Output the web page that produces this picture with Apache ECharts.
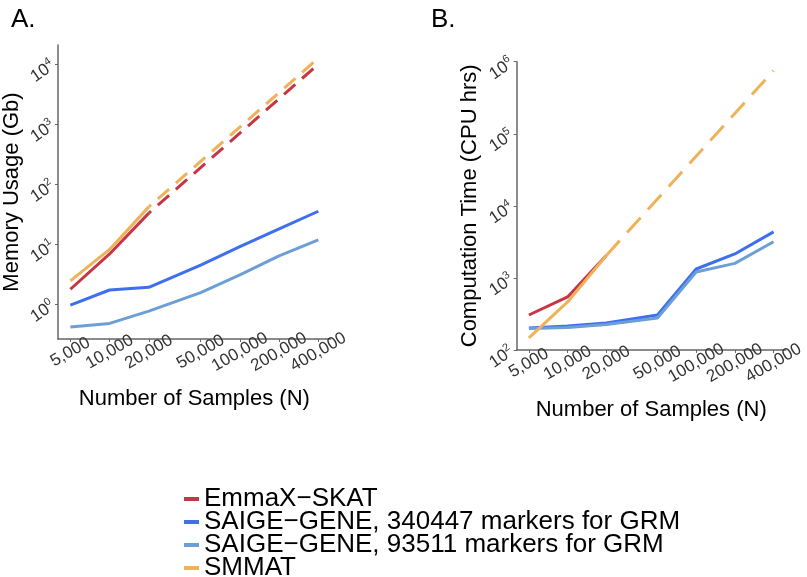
<!DOCTYPE html>
<html>
<head>
<meta charset="utf-8">
<script src="https://cdn.jsdelivr.net/npm/echarts@6/dist/echarts.min.js"></script>
<style>
html,body{margin:0;padding:0;background:#fff;}
#c{width:807px;height:577px;}
</style>
</head>
<body>
<div id="c"></div>
<script>
// ---- data ----
const sampleSizes = [5000, 10000, 20000, 50000, 100000, 200000, 400000];
const xTickLabels = ['5,000', '10,000', '20,000', '50,000', '100,000', '200,000', '400,000'];
const observedSizes = [5000, 10000, 20000];
const projectedSizes = [20000, 400000];

const seriesNames = ['EmmaX\u2212SKAT', 'SAIGE\u2212GENE, 340447 markers for GRM', 'SAIGE\u2212GENE, 93511 markers for GRM', 'SMMAT'];
const seriesColors = ['#C63644', '#3E6FEF', '#6C9FD6', '#EEB258'];

// Panel A: memory usage (Gb)
const memEmmaxObserved = [1.78, 6.9, 33];
const memEmmaxProjected = [33, 10000];
const memSaige340k = [0.97, 1.73, 1.92, 4.5, 9.1, 18, 35.5];
const memSaige93k = [0.42, 0.48, 0.77, 1.56, 3.1, 6.4, 11.8];
const memSmmatObserved = [2.45, 8.2, 42];
const memSmmatProjected = [42, 12600];
const memTicks = [1, 10, 100, 1000, 10000];

// Panel B: computation time (CPU hrs)
const timeEmmaxObserved = [306, 545, 2040];
const timeSaige340k = [202, 216, 237, 306, 1330, 2150, 4350];
const timeSaige93k = [199, 205, 226, 278, 1210, 1590, 3170];
const timeSmmatObserved = [147, 464, 2050];
const timeSmmatProjected = [2050, 750000];
const timeTicks = [100, 1000, 10000, 100000, 1000000];

// ---- chart ----
const FONT = '"Liberation Sans", Arial, Helvetica, sans-serif';
const pair = (xs, ys) => xs.map((x, i) => [x, ys[i]]);

function xAxisDef(gridIndex) {
  return {
    type: 'log', logBase: 10, gridIndex: gridIndex,
    min: 4018, max: 497800,
    name: 'Number of Samples (N)', nameLocation: 'middle', nameGap: 49,
    nameTextStyle: { fontFamily: FONT, fontSize: 22, color: '#000' },
    axisLine: { show: true, lineStyle: { color: '#666', width: 1.5 } },
    axisTick: { show: true, length: 3, lineStyle: { color: '#666' }, customValues: sampleSizes },
    axisLabel: {
      customValues: sampleSizes,
      rotate: 30, align: 'center', verticalAlign: 'middle', margin: 13,
      fontFamily: FONT, fontSize: 17, color: '#333',
      formatter: v => { const i = sampleSizes.indexOf(Math.round(v)); return i >= 0 ? xTickLabels[i] : ''; }
    },
    splitLine: { show: false }, minorTick: { show: false }
  };
}
function yAxisDef(gridIndex, min, max, ticks, title, gap) {
  return {
    type: 'log', logBase: 10, gridIndex: gridIndex, min: min, max: max,
    name: title, nameLocation: 'middle', nameGap: gap,
    nameTextStyle: { fontFamily: FONT, fontSize: 22, color: '#000' },
    axisLine: { show: true, lineStyle: { color: '#666', width: 1.5 } },
    axisTick: { show: true, length: 3, lineStyle: { color: '#666' }, customValues: ticks },
    axisLabel: {
      customValues: ticks,
      rotate: 35, margin: 5, color: '#333',
      formatter: v => '{b|10}{s|' + Math.round(Math.log10(v)) + '}',
      rich: {
        b: { fontFamily: FONT, fontSize: 17, color: '#333' },
        s: { fontFamily: FONT, fontSize: 11, color: '#333', padding: [0, 0, 10, 0] }
      }
    },
    splitLine: { show: false }, minorTick: { show: false }
  };
}
function line(name, color, data, axisIdx, dash) {
  return {
    type: 'line', name: name, data: data, xAxisIndex: axisIdx, yAxisIndex: axisIdx,
    symbol: 'none', showSymbol: false, silent: true, animation: false,
    itemStyle: { color: color },
    lineStyle: Object.assign({ color: color, width: 3 }, dash ? { type: dash.type, dashOffset: dash.offset } : {})
  };
}

const option = {
  backgroundColor: '#fff',
  animation: false,
  title: [
    { text: 'A.', left: 6, top: 2, textStyle: { fontFamily: FONT, fontSize: 26, fontWeight: 'normal', color: '#000' } },
    { text: 'B.', left: 426, top: 2, textStyle: { fontFamily: FONT, fontSize: 26, fontWeight: 'normal', color: '#000' } }
  ],
  grid: [
    { left: 56.7, top: 45, width: 274, height: 294 },
    { left: 516.7, top: 61.7, width: 271.3, height: 288.3 }
  ],
  xAxis: [xAxisDef(0), xAxisDef(1)],
  yAxis: [
    yAxisDef(0, 0.264, 20900, memTicks, 'Memory Usage (Gb)', 35),
    yAxisDef(1, 100, 1000000, timeTicks, 'Computation Time (CPU hrs)', 36)
  ],
  legend: {
    orient: 'vertical', left: 184, top: 486, height: 200, itemGap: -3, padding: 0,
    icon: 'rect', itemWidth: 15, itemHeight: 4,
    data: seriesNames,
    selectedMode: false,
    textStyle: { fontFamily: FONT, fontSize: 26, color: '#000', lineHeight: 22.7 }
  },
  series: [
    line(seriesNames[0], seriesColors[0], pair(observedSizes, memEmmaxObserved), 0),
    line(seriesNames[1], seriesColors[1], pair(sampleSizes, memSaige340k), 0),
    line(seriesNames[2], seriesColors[2], pair(sampleSizes, memSaige93k), 0),
    line(seriesNames[3], seriesColors[3], pair(observedSizes, memSmmatObserved), 0),
    line(seriesNames[0], seriesColors[0], pair(projectedSizes, memEmmaxProjected), 0, { type: [15, 9], offset: 12 }),
    line(seriesNames[3], seriesColors[3], pair(projectedSizes, memSmmatProjected), 0, { type: [15, 9], offset: 12 }),

    line(seriesNames[0], seriesColors[0], pair(observedSizes, timeEmmaxObserved), 1),
    line(seriesNames[1], seriesColors[1], pair(sampleSizes, timeSaige340k), 1),
    line(seriesNames[2], seriesColors[2], pair(sampleSizes, timeSaige93k), 1),
    line(seriesNames[3], seriesColors[3], pair(observedSizes, timeSmmatObserved), 1),
    line(seriesNames[3], seriesColors[3], pair(projectedSizes, timeSmmatProjected), 1, { type: [20, 11], offset: 0 })
  ]
};

const chart = echarts.init(document.getElementById('c'), null, { renderer: 'canvas' });
chart.setOption(option);
</script>
</body>
</html>
